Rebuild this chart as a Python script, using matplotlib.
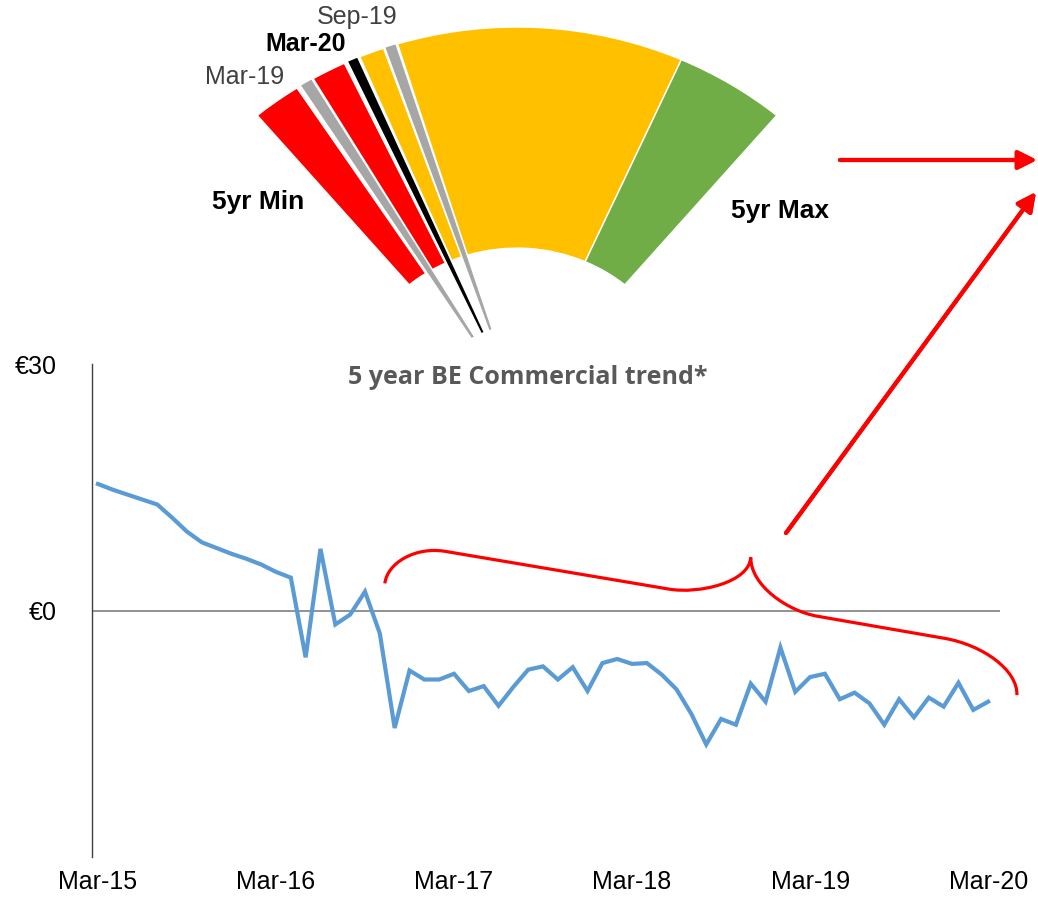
import matplotlib.pyplot as plt
from matplotlib.patches import Wedge, PathPatch
from matplotlib.path import Path
import numpy as np

# monthly BE commercial trend, Mar-15 .. Mar-20 (EUR)
trend = [15.4, 14.7, 14.1, 13.5, 12.9, 11.3, 9.6, 8.3, 7.6, 6.9, 6.3, 5.6,
         4.7, 4.0, -5.7, 7.5, -1.7, -0.5, 2.3, -2.8, -14.3, -7.3, -8.4, -8.4,
         -7.7, -9.8, -9.2, -11.6, -9.3, -7.2, -6.8, -8.4, -6.9, -9.8, -6.4, -5.9,
         -6.5, -6.4, -7.8, -9.6, -12.6, -16.3, -13.2, -13.9, -8.9, -11.1, -4.5, -9.9,
         -8.1, -7.7, -10.8, -10.0, -11.3, -13.9, -10.8, -13.0, -10.6, -11.7, -8.8, -12.1,
         -11.1]
months = np.arange(len(trend))
xtick_pos = [0, 12, 24, 36, 48, 60]
xtick_lab = ["Mar-15", "Mar-16", "Mar-17", "Mar-18", "Mar-19", "Mar-20"]
ytick_pos = [0, 30]
ytick_lab = ["\u20ac0", "\u20ac30"]

# gauge bands (angles in degrees, 130 = 5yr min side, 50 = 5yr max side)
band_start = [123.0, 115.3, 109.3, 66.0, 50.0]
band_end = [130.0, 120.3, 112.9, 107.2, 66.0]
band_col = ["#FF0000", "#FF0000", "#FFC000", "#FFC000", "#70AD47"]
# needles for the marked periods
needle_lab = ["Mar-19", "Mar-20", "Sep-19"]
needle_start = [120.6, 113.3, 107.5]
needle_end = [122.3, 114.7, 109.0]
needle_col = ["#A6A6A6", "#000000", "#A6A6A6"]

W, H = 1038, 897
fig = plt.figure(figsize=(W / 100, H / 100), dpi=100)

def px(x, y):
    return (x / W, 1 - y / H)

# ---- line chart
ax = fig.add_axes([92 / W, 40 / H, 908 / W, 493 / H])
ax.plot(months, trend, color="#5B9BD5", lw=3, solid_joinstyle="miter")
ax.axhline(0, color="#7F7F7F", lw=1.2, zorder=0)
ax.set_xlim(-0.4, 60.8)
ax.set_ylim(-30, 30)
for s in ["top", "right", "bottom"]:
    ax.spines[s].set_visible(False)
ax.spines["left"].set_color("#404040")
ax.spines["left"].set_linewidth(1)
ax.set_xticks(xtick_pos)
ax.set_xticklabels(xtick_lab, fontsize=18, family="Liberation Sans")
ax.set_yticks(ytick_pos)
ax.set_yticklabels(ytick_lab, fontsize=18, family="Liberation Sans")
ax.tick_params(axis="x", length=0, pad=9)
ax.tick_params(axis="y", length=0, pad=25)
ax.text(0.48, 0.972, "5 year BE Commercial trend*", transform=ax.transAxes,
        ha="center", va="center", fontsize=18, fontweight="bold",
        color="#595959", family="Open Sans")

# curly brace over the last part of the series (data units)
verts = [(19.34, 3.3), (19.5, 5.8), (21.4, 7.8), (23.4, 7.2),
         (38.5, 2.6),
         (40.5, 2.0), (43.9, 3.4), (44.0, 6.45),
         (44.0, 3.0), (46.5, -0.07), (48.5, -0.7),
         (57.1, -3.4),
         (59.6, -4.2), (62.0, -7.2), (61.94, -10.3)]
codes = [Path.MOVETO, Path.CURVE4, Path.CURVE4, Path.CURVE4,
         Path.LINETO,
         Path.CURVE4, Path.CURVE4, Path.CURVE4,
         Path.CURVE4, Path.CURVE4, Path.CURVE4,
         Path.LINETO,
         Path.CURVE4, Path.CURVE4, Path.CURVE4]
ax.add_patch(PathPatch(Path(verts, codes), fill=False, edgecolor="#FF0000",
                       lw=2.3, clip_on=False))

# ---- gauge
ag = fig.add_axes([0, 0, 1, 1])
ag.set_xlim(-517 / 404, 521 / 404)
ag.set_ylim(-492 / 378, 405 / 378)
ag.axis("off")
ag.patch.set_visible(False)
for t0, t1, c in zip(band_start, band_end, band_col):
    ag.add_patch(Wedge((0, 0), 1.0, t0, t1, width=0.585, facecolor=c,
                       edgecolor="white", lw=1.0))
for t0, t1, c in zip(needle_start, needle_end, needle_col):
    ag.add_patch(Wedge((0, 0), 1.0, t0, t1, width=0.79, facecolor=c,
                       edgecolor="none"))

fig.text(*px(245, 77), "Mar-19", ha="center", va="center", fontsize=18,
         color="#404040", family="Liberation Sans")
fig.text(*px(306, 44), "Mar-20", ha="center", va="center", fontsize=18,
         fontweight="bold", color="black", family="Liberation Sans")
fig.text(*px(357, 17), "Sep-19", ha="center", va="center", fontsize=18,
         color="#404040", family="Liberation Sans")
fig.text(*px(258, 202), "5yr Min", ha="center", va="center", fontsize=19,
         fontweight="bold", color="black", family="Liberation Sans")
fig.text(*px(780, 211), "5yr Max", ha="center", va="center", fontsize=19,
         fontweight="bold", color="black", family="Liberation Sans")

# red arrows to the right edge
arrow = dict(arrowstyle="-|>", color="#FF0000", lw=3, mutation_scale=28,
             shrinkA=0, shrinkB=0)
fig.add_artist(plt.annotate("", xy=(1037, H - 160), xytext=(840, H - 160),
                            xycoords="figure pixels", textcoords="figure pixels",
                            arrowprops=arrow))
fig.add_artist(plt.annotate("", xy=(1036, H - 192), xytext=(786, H - 533),
                            xycoords="figure pixels", textcoords="figure pixels",
                            arrowprops=arrow))

fig.savefig("out.png", dpi=100)
